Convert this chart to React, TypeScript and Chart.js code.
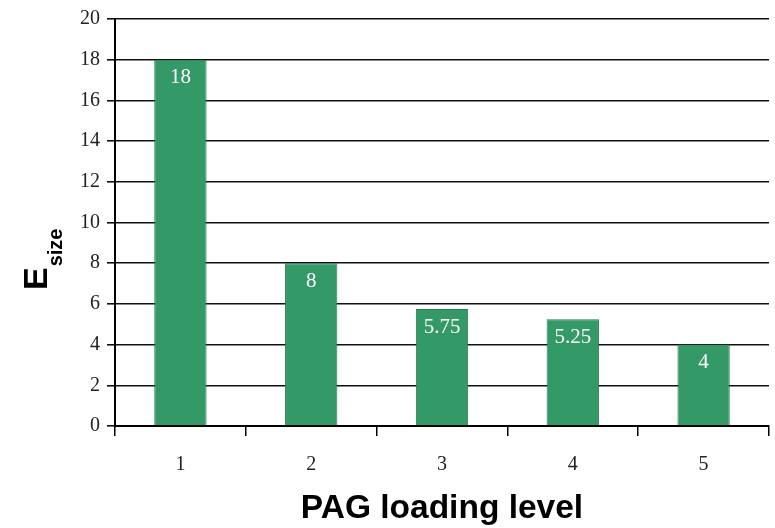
import React, { useEffect, useRef } from "react";
import { Chart, registerables } from "chart.js";

Chart.register(...registerables);

// PAG loading levels and the resulting E_size values
const loadingLevels = ["1", "2", "3", "4", "5"];
const eSizeValues = [18, 8, 5.75, 5.25, 4];
const yTickMax = 20;
const yTickStep = 2;

const xTitle = "PAG loading level";
const yTitleMain = "E";
const yTitleSub = "size";

const BAR_FILL = "rgb(51,153,102)";
const BAR_EDGE = "rgb(40,125,80)";
const SERIF = "'Liberation Serif', 'Times New Roman', serif";
const SANS = "'Liberation Sans', Arial, sans-serif";

// Writes each bar's value in white just inside its top edge
const valueLabels = {
  id: "valueLabels",
  afterDatasetsDraw(chart: any) {
    const { ctx } = chart;
    const meta = chart.getDatasetMeta(0);
    const data = chart.data.datasets[0].data as number[];
    ctx.save();
    ctx.fillStyle = "#ffffff";
    ctx.font = `21px ${SERIF}`;
    ctx.textAlign = "center";
    ctx.textBaseline = "middle";
    meta.data.forEach((bar: any, i: number) => {
      ctx.fillText(String(data[i]), bar.x, bar.y + 18);
    });
    ctx.restore();
  },
};

// Axis titles, including the subscripted y title
const axisTitles = {
  id: "axisTitles",
  afterDraw(chart: any) {
    const { ctx, chartArea } = chart;
    ctx.save();
    ctx.fillStyle = "#000000";

    // x title
    ctx.font = `bold 33.5px ${SANS}`;
    ctx.textAlign = "center";
    ctx.textBaseline = "alphabetic";
    ctx.fillText(xTitle, (chartArea.left + chartArea.right) / 2, 518);

    // y title, rotated, with subscript
    ctx.translate(47, 290);
    ctx.rotate(-Math.PI / 2);
    ctx.textAlign = "left";
    ctx.font = `bold 34px ${SANS}`;
    ctx.fillText(yTitleMain, 0, 0);
    const w = ctx.measureText(yTitleMain).width;
    ctx.font = `bold 20px ${SANS}`;
    ctx.fillText(yTitleSub, w + 1, 15);
    ctx.restore();
  },
};

export default function App() {
  const canvasRef = useRef<HTMLCanvasElement | null>(null);

  useEffect(() => {
    document.body.style.margin = "0";
    const canvas = canvasRef.current;
    if (!canvas) return;
    const chart = new Chart(canvas, {
      type: "bar",
      data: {
        labels: loadingLevels,
        datasets: [
          {
            data: eSizeValues,
            backgroundColor: BAR_FILL,
            borderColor: BAR_EDGE,
            borderWidth: 1,
            barPercentage: 0.4,
            categoryPercentage: 1,
          },
        ],
      },
      options: {
        responsive: false,
        animation: false,
        devicePixelRatio: 1,
        layout: { padding: { top: 16, right: 6, left: 0, bottom: 0 } },
        plugins: {
          legend: { display: false },
          tooltip: { enabled: false },
        },
        scales: {
          x: {
            grid: {
              offset: true,
              drawOnChartArea: false,
              drawTicks: true,
              tickLength: 10,
              color: "#000000",
              lineWidth: 1.5,
            },
            border: { color: "#000000", width: 2 },
            ticks: {
              color: "#222222",
              font: { family: SERIF, size: 20 },
              padding: 17,
            },
            afterFit(scale: any) {
              scale.height = 102;
            },
          },
          y: {
            min: 0,
            max: yTickMax,
            grid: {
              color: "#111111",
              lineWidth: 1.6,
              drawTicks: true,
              tickLength: 8,
            },
            border: { color: "#000000", width: 2 },
            ticks: {
              stepSize: yTickStep,
              color: "#222222",
              font: { family: SERIF, size: 20 },
              padding: 7,
            },
            afterFit(scale: any) {
              scale.width = 115;
            },
          },
        },
      },
      plugins: [valueLabels, axisTitles],
    });
    return () => chart.destroy();
  }, []);

  return (
    <div style={{ position: "absolute", left: 0, top: 0, width: 775, height: 528, background: "#ffffff" }}>
      <canvas ref={canvasRef} width={775} height={528} />
    </div>
  );
}
